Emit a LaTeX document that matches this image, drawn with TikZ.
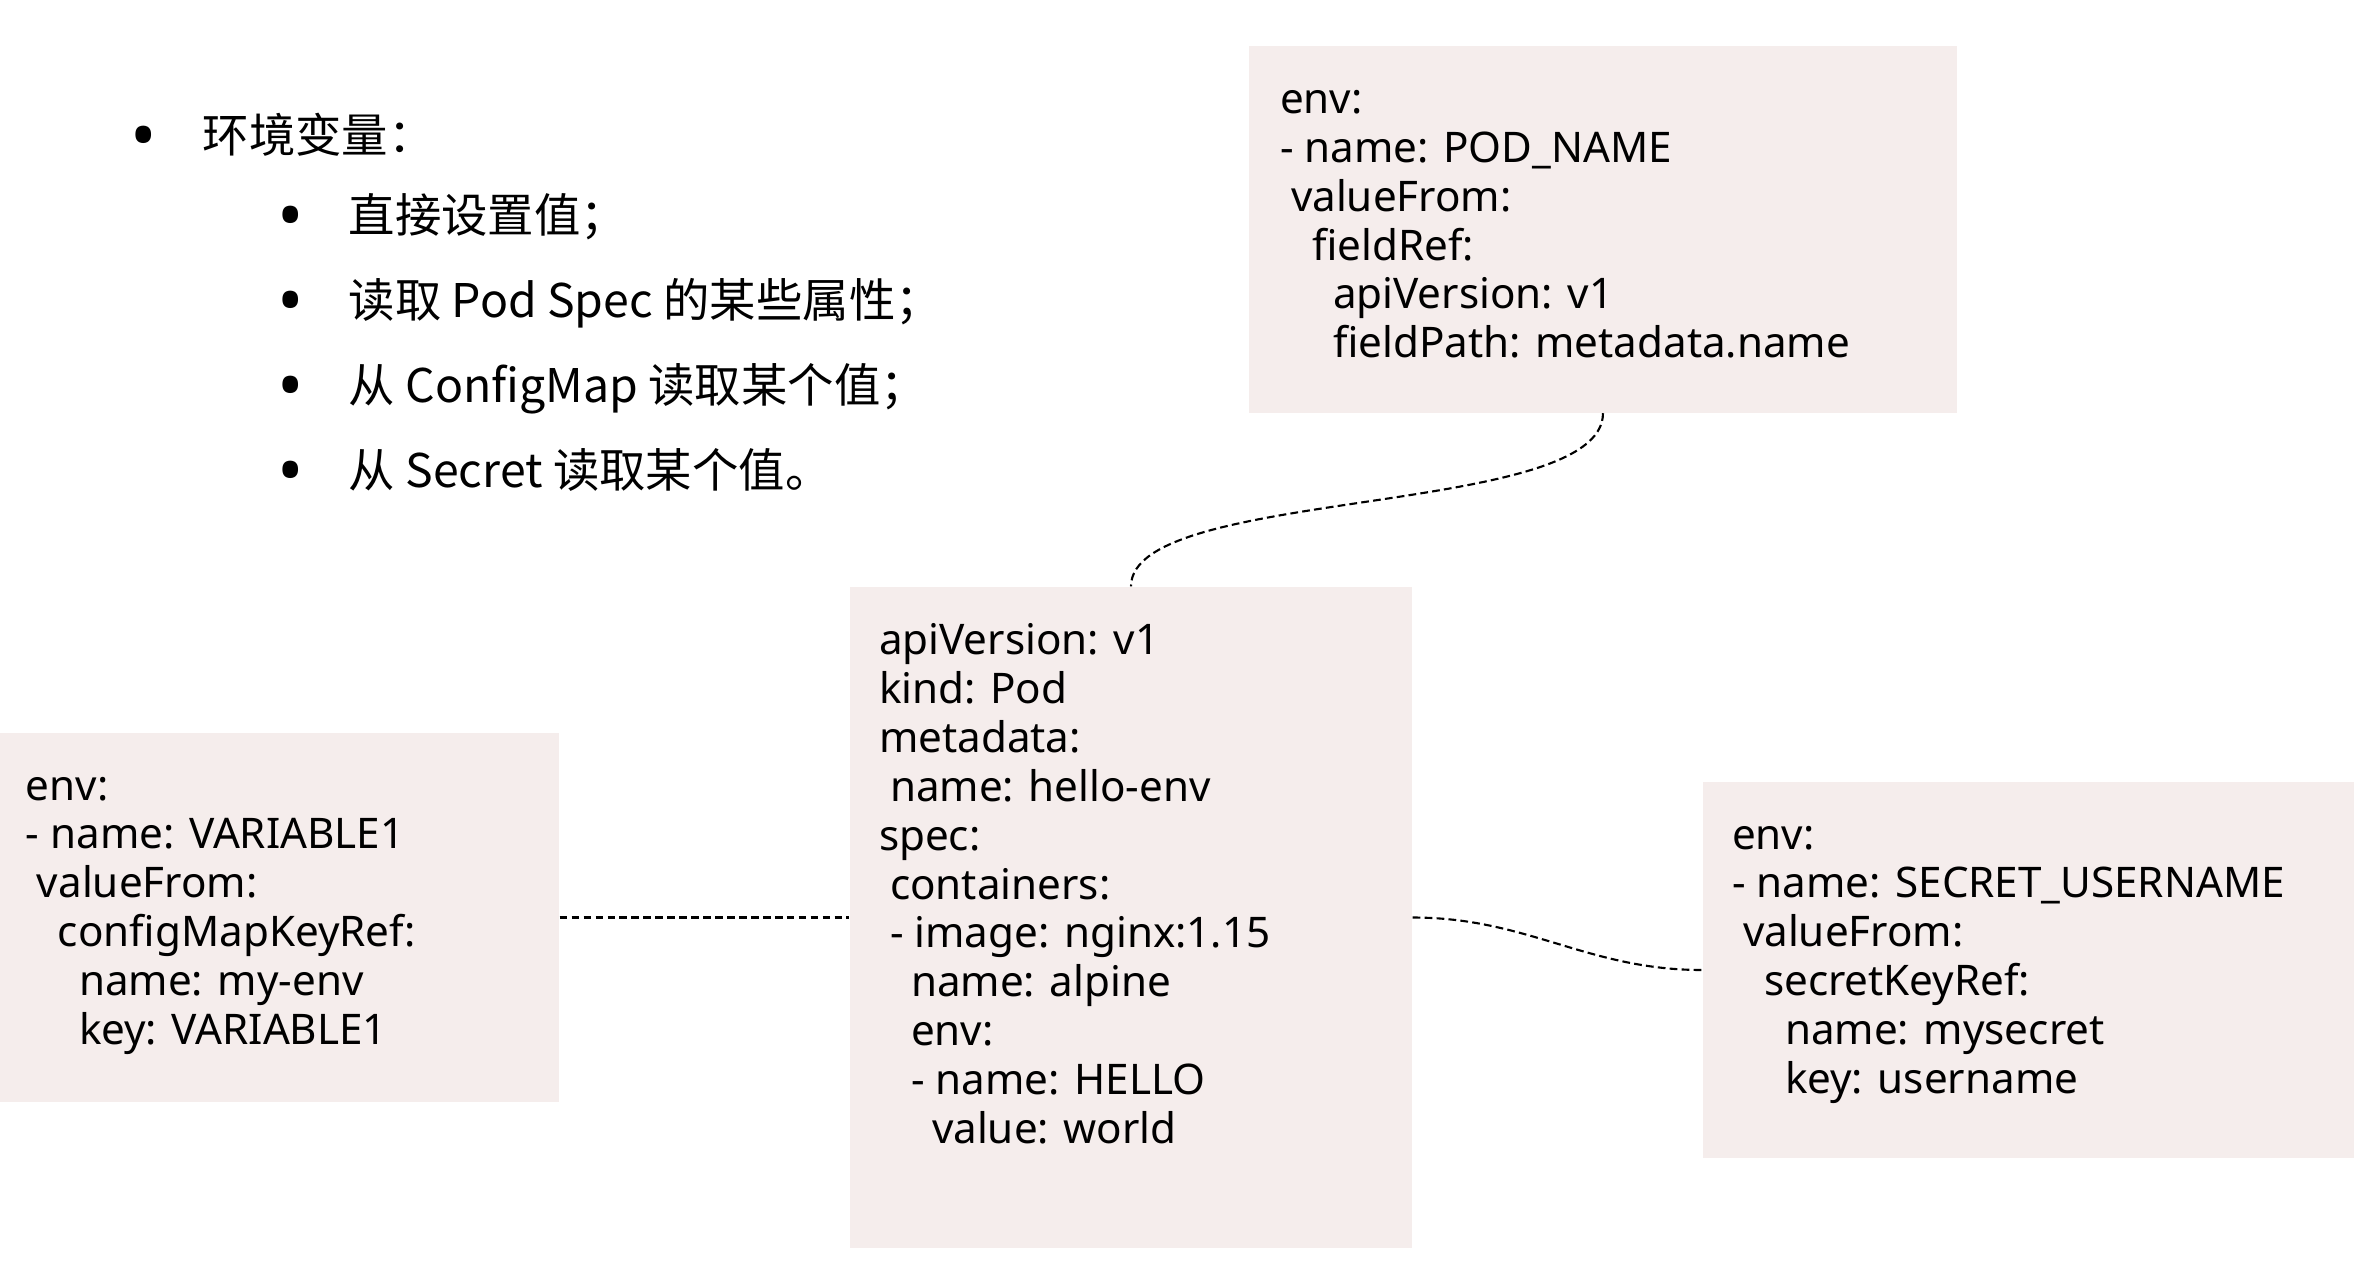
\documentclass[tikz,border=0pt]{standalone}
\usepackage{fontspec}
\setmainfont{Noto Sans}
\newfontfamily\cjk{Noto Sans CJK SC}
\usetikzlibrary{positioning}
\definecolor{boxpink}{RGB}{245, 237, 236}

% indents inside the yaml snippets
\newcommand{\indA}{\hspace*{0.11cm}}
\newcommand{\indB}{\hspace*{0.32cm}}
\newcommand{\indC}{\hspace*{0.53cm}}

\tikzset{
    yamlbox/.style={fill=boxpink, draw=none, inner sep=0pt},
    yaml/.style={align=left, inner sep=0pt, anchor=base west, font=\fontsize{12}{13.9}\selectfont},
    item/.style={inner sep=0pt, anchor=base west, font=\cjk\fontsize{13.2}{15}\selectfont},
    dot/.style={inner sep=0pt, anchor=base, font=\fontsize{20}{22}\selectfont},
    link/.style={draw=black, line width=0.6pt, dash pattern=on 2.2pt off 1.2pt}
}

\begin{document}
\begin{tikzpicture}
    \useasboundingbox (0,0) rectangle (23.8,-12.66);

    % Bullet list
    \node[dot] (d0) at (1.44,-1.60) {•};
    \node[item] (t0) at (2.02,-1.52) {环境变量：};
    \node[dot] (d1) at (2.91,-2.40) {•};
    \node[item] (t1) at (3.48,-2.32) {直接设置值；};
    \node[dot] (d2) at (2.91,-3.25) {•};
    \node[item] (t2) at (3.48,-3.17) {读取 Pod Spec 的某些属性；};
    \node[dot] (d3) at (2.91,-4.10) {•};
    \node[item] (t3) at (3.48,-4.02) {从 ConfigMap 读取某个值；};
    \node[dot] (d4) at (2.91,-4.95) {•};
    \node[item] (t4) at (3.48,-4.87) {从 Secret 读取某个值。};

    % Boxes
    \node[yamlbox, minimum width=7.08cm, minimum height=3.67cm] (fieldbox) at (16.03,-2.29) {};
    \node[yamlbox, minimum width=5.62cm, minimum height=6.61cm] (pod) at (11.31,-9.175) {};
    \node[yamlbox, minimum width=5.59cm, minimum height=3.69cm] (cmbox) at (2.795,-9.175) {};
    \node[yamlbox, minimum width=6.51cm, minimum height=3.76cm] (secbox) at (20.285,-9.70) {};

    % Snippets (base anchor sits on the last line)
    \node[yaml] (fieldtext) at ([shift={(0.31,-3.13)}]fieldbox.north west)
        {env:\\- name: POD\_NAME\\\indA valueFrom:\\\indB fieldRef:\\\indC apiVersion: v1\\\indC fieldPath: metadata.name};
    \node[yaml] (podtext) at ([shift={(0.29,-5.57)}]pod.north west)
        {apiVersion: v1\\kind: Pod\\metadata:\\\indA name: hello-env\\spec:\\\indA containers:\\\indA - image: nginx:1.15\\\indB name: alpine\\\indB env:\\\indB - name: HELLO\\\indC value: world};
    \node[yaml] (cmtext) at ([shift={(0.26,-3.12)}]cmbox.north west)
        {env:\\- name: VARIABLE1\\\indA valueFrom:\\\indB configMapKeyRef:\\\indC name: my-env\\\indC key: VARIABLE1};
    \node[yaml] (sectext) at ([shift={(0.29,-3.12)}]secbox.north west)
        {env:\\- name: SECRET\_USERNAME\\\indA valueFrom:\\\indB secretKeyRef:\\\indC name: mysecret\\\indC key: username};

    % Links
    \draw[link] (fieldbox.south) .. controls +(0,-1.05) and +(0,1.0) .. (pod.north);
    \draw[link] (cmbox.east) -- (pod.west);
    \draw[link] (pod.east) to[out=0, in=180] (secbox.west);
\end{tikzpicture}
\end{document}
